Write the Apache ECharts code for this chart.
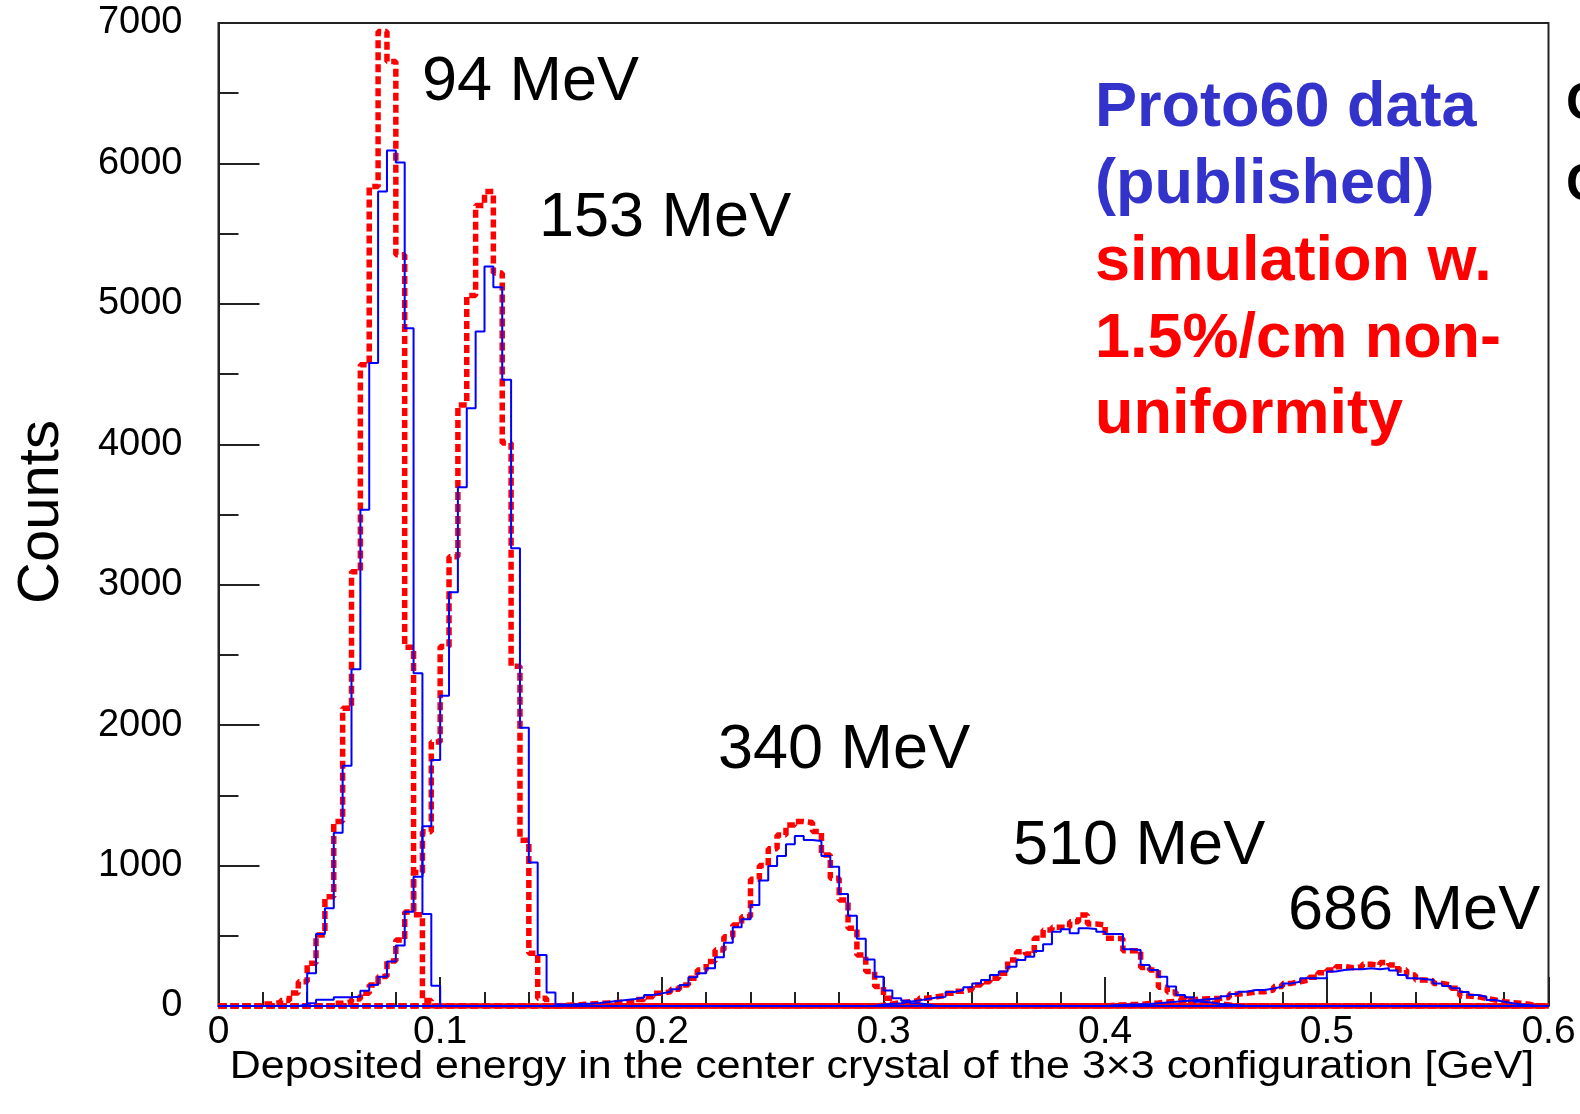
<!DOCTYPE html>
<html>
<head>
<meta charset="utf-8">
<title>Deposited energy - Proto60</title>
<script src="https://cdn.jsdelivr.net/npm/echarts@6/dist/echarts.min.js"></script>
<style>
  html, body { margin: 0; padding: 0; background: #fff; }
  #chart { width: 1580px; height: 1114px; }
</style>
</head>
<body>
<div id="chart"></div>
<script>
// histogram binning: 150 bins of 4 MeV from 0 to 0.6 GeV
const BIN = 0.004
const NBINS = 150
const XMAX = 0.6

// counts per bin, each list starts at bin index *Start
const data94Start = 9
const data94 = [10, 233, 513, 696, 1234, 1711, 2398, 3533, 4578, 5800, 6092, 6006, 4827, 2370, 655, 145]
const sim94Start = 5
const sim94 = [15, 25, 40, 92, 173, 304, 506, 778, 1313, 2120, 3093, 4566, 5836, 6940, 6726, 5349, 2555, 650, 40]

const data153Start = 9
const data153 = [0, 20, 45, 45, 62, 62, 66, 109, 150, 209, 316, 430, 672, 921, 1280, 1752, 2210, 2946, 3694, 4257,
  4803, 5266, 5119, 4459, 3260, 1982, 1021, 363, 97, 10]
const sim153Start = 13
const sim153 = [20, 30, 50, 90, 150, 210, 320, 470, 670, 950, 1240, 1880, 2560, 3200, 4280, 5060, 5700, 5800, 5220,
  4010, 2420, 1180, 375, 55]

const data340Start = 38
const data340 = [8, 10, 15, 18, 22, 28, 35, 43, 50, 60, 78, 90, 102, 119, 150, 204, 233, 268, 347, 451, 560, 617,
  719, 893, 997, 1068, 1152, 1211, 1182, 1175, 1068, 992, 798, 643, 479, 332, 209, 110, 55, 38, 19, 10]
const sim340Start = 38
const sim340 = [5, 8, 10, 15, 18, 22, 25, 28, 31, 47, 66, 90, 102, 119, 150, 197, 256, 316, 399, 494, 577, 636,
  902, 1000, 1120, 1218, 1289, 1313, 1306, 1242, 1076, 909, 755, 553, 364, 245, 138, 55, 7]

const data510Start = 74
const data510 = [10, 15, 20, 30, 40, 50, 60, 65, 100, 114, 133, 161, 185, 221, 245, 280, 328, 351, 392, 439, 529,
  546, 518, 553, 548, 529, 513, 513, 404, 399, 292, 256, 209, 138, 78, 62, 31, 25, 15, 10, 5]
const sim510Start = 74
const sim510 = [5, 15, 25, 30, 40, 55, 66, 75, 90, 105, 119, 150, 173, 197, 233, 328, 387, 370, 482, 541, 560,
  560, 600, 648, 584, 577, 482, 480, 394, 394, 275, 256, 133, 100, 62, 40, 30, 20, 15, 8]

const data686Start = 100
const data686 = [5, 8, 10, 12, 15, 20, 25, 30, 35, 40, 45, 50, 55, 70, 85, 102, 114, 114, 125, 138, 161, 173, 197,
  197, 197, 245, 256, 261, 261, 268, 261, 268, 252, 221, 197, 192, 185, 161, 142, 126, 100, 78, 66, 43, 31, 19, 10, 5]
const sim686Start = 100
const sim686 = [5, 8, 10, 12, 18, 22, 28, 32, 40, 45, 50, 52, 55, 60, 85, 90, 100, 102, 114, 138, 161, 173, 185,
  204, 237, 256, 280, 273, 280, 297, 292, 309, 292, 256, 221, 185, 180, 161, 149, 126, 71, 66, 55, 43, 31, 24, 19, 10]

const xTicks = ['0', '0.1', '0.2', '0.3', '0.4', '0.5', '0.6']
const peakLabels = ['94 MeV', '153 MeV', '340 MeV', '510 MeV', '686 MeV']
const legendBlue = ['Proto60 data', '(published)']
const legendRed = ['simulation w.', '1.5%/cm non-', 'uniformity']

const FONT = "'Liberation Sans', Arial, Helvetica, sans-serif"

function hist(start, counts) {
  const pts = []
  for (let k = 0; k < NBINS; k++) {
    const i = k - start
    const v = i >= 0 && i < counts.length ? counts[i] : 0
    pts.push([+(k * BIN).toFixed(3), v])
  }
  pts.push([XMAX, 0])
  return pts
}

function simSeries(name, start, counts) {
  return {
    name: name,
    type: 'line',
    step: 'end',
    symbol: 'none',
    silent: true,
    z: 2,
    data: hist(start, counts),
    lineStyle: { color: '#ff0000', width: 5.5, type: [8, 4] }
  }
}

function dataSeries(name, start, counts) {
  return {
    name: name,
    type: 'line',
    step: 'end',
    symbol: 'none',
    silent: true,
    z: 3,
    data: hist(start, counts),
    lineStyle: { color: '#0000ff', width: 2 }
  }
}

// label positions (left x, cap centre y)
const peakPos = [[422, 83], [539, 219], [718, 751], [1013, 847], [1288, 912]]

const graphics = []
peakLabels.forEach((t, i) => {
  graphics.push({
    type: 'text', x: peakPos[i][0], y: peakPos[i][1], z: 10,
    style: { text: t, fill: '#000', font: '63px ' + FONT, align: 'left', verticalAlign: 'middle' }
  })
})
legendBlue.forEach((t, i) => {
  graphics.push({
    type: 'text', x: 1095, y: 109 + i * 76.5, z: 10,
    style: { text: t, fill: '#3333cc', font: 'bold 63px ' + FONT, align: 'left', verticalAlign: 'middle' }
  })
})
legendRed.forEach((t, i) => {
  graphics.push({
    type: 'text', x: 1095, y: 263 + i * 76.5, z: 10,
    style: { text: t, fill: '#ff0000', font: 'bold 63px ' + FONT, align: 'left', verticalAlign: 'middle' }
  })
})
// axis titles
graphics.push({
  type: 'text', x: 42, y: 512, rotation: Math.PI / 2, z: 10,
  style: { text: 'Counts', fill: '#000', font: '58px ' + FONT, align: 'center', verticalAlign: 'middle' }
})
graphics.push({
  type: 'text', x: 882, y: 1068, scaleX: 1.13, z: 10,
  style: {
    text: 'Deposited energy in the center crystal of the 3\u00d73 configuration [GeV]',
    fill: '#000', font: '38px ' + FONT, align: 'center', verticalAlign: 'middle'
  }
})
// text cut by the right edge of the slide
graphics.push({
  type: 'text', x: 1566, y: 105, z: 10,
  style: { text: 'C', fill: '#000', font: 'bold 52px ' + FONT, align: 'left', verticalAlign: 'middle' }
})
graphics.push({
  type: 'text', x: 1566, y: 186, z: 10,
  style: { text: 'C', fill: '#000', font: 'bold 52px ' + FONT, align: 'left', verticalAlign: 'middle' }
})

const chart = echarts.init(document.getElementById('chart'), null, { renderer: 'canvas' })

const option = {
  animation: false,
  backgroundColor: '#fff',
  grid: {
    left: 218.5, right: 31.5, top: 23, bottom: 108,
    show: true, borderColor: '#222', borderWidth: 2,
    containLabel: false, outerBoundsMode: 'none'
  },
  xAxis: {
    type: 'value',
    min: 0, max: XMAX, interval: 0.1,
    axisLine: { show: true, onZero: false, lineStyle: { color: '#222', width: 2 } },
    axisTick: { show: true, inside: true, length: 29, lineStyle: { color: '#222', width: 2 } },
    minorTick: { show: true, splitNumber: 5, length: 14, lineStyle: { color: '#222', width: 2 } },
    splitLine: { show: false },
    axisLabel: {
      color: '#000', fontSize: 39, fontFamily: FONT, margin: 7,
      formatter: (v) => xTicks[Math.round(v * 10)]
    }
  },
  yAxis: {
    type: 'value',
    min: 0, max: 7000, interval: 1000,
    axisLine: { show: true, lineStyle: { color: '#222', width: 2 } },
    axisTick: { show: true, inside: true, length: 41, lineStyle: { color: '#222', width: 2 } },
    minorTick: { show: true, splitNumber: 2, length: 20, lineStyle: { color: '#222', width: 2 } },
    splitLine: { show: false },
    axisLabel: { color: '#000', fontSize: 38, fontFamily: FONT, margin: 36, formatter: (v) => String(v) }
  },
  series: [
    simSeries('sim 94', sim94Start, sim94),
    simSeries('sim 153', sim153Start, sim153),
    simSeries('sim 340', sim340Start, sim340),
    simSeries('sim 510', sim510Start, sim510),
    simSeries('sim 686', sim686Start, sim686),
    dataSeries('data 94', data94Start, data94),
    dataSeries('data 153', data153Start, data153),
    dataSeries('data 340', data340Start, data340),
    dataSeries('data 510', data510Start, data510),
    dataSeries('data 686', data686Start, data686)
  ],
  graphic: graphics
}

chart.setOption(option)
</script>
</body>
</html>
